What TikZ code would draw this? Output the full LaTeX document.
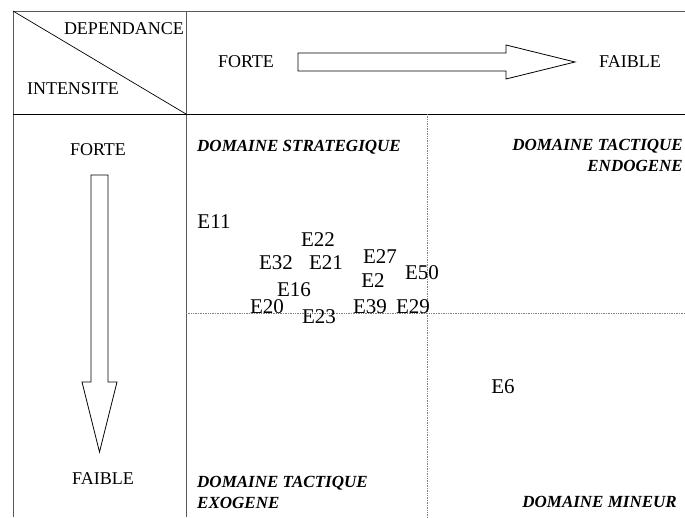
\documentclass[tikz,border=0pt]{standalone}
\usepackage{fontspec}
\setmainfont{Liberation Serif}
\usepackage{tikz}
\tikzset{%
  base/.style = {inner sep=0pt, font=\fontsize{18}{21}\selectfont},
  elem/.style = {inner sep=0pt, font=\fontsize{21}{23}\selectfont},
  zone/.style = {inner sep=0pt, align=left, font=\fontsize{17}{21}\selectfont\bfseries\itshape},
  frame/.style = {draw=black!65, line width=0.9pt},
  sep/.style = {draw=black!50, densely dotted, line width=0.7pt},
  bigarrow/.style = {draw=black, line width=0.8pt, fill=white, line join=miter}
}

\begin{document}
\begin{tikzpicture}[x=1pt, y=-1pt]
  \useasboundingbox (0,0) rectangle (685,517);

  % Table frame
  \draw[frame] (685,11) -- (13,11) -- (13,517);
  \draw[frame] (186,11) -- (186,517);
  \draw[draw=black, line width=0.9pt] (13,114) -- (685,114);
  \draw[line width=0.7pt] (13,11) -- (186,114);
  \draw[sep] (427,114) -- (427,517);
  \draw[sep] (186,313) -- (685,313);

  % Header texts
  \node (dependance) [base] at (124,29) {DEPENDANCE};
  \node (intensite) [base] at (73,89) {INTENSITE};
  \node (forte-h) [base] at (246,62) {FORTE};
  \node (faible-h) [base] at (630,62) {FAIBLE};
  \node (forte-v) [base] at (98,150) {FORTE};
  \node (faible-v) [base] at (103,479) {FAIBLE};

  % Block arrows
  \draw[bigarrow] (298,53) -- (506,53) -- (506,45) -- (575,62) -- (506,79)
    -- (506,71) -- (298,71) -- cycle;
  \draw[bigarrow] (91,175) -- (108,175) -- (108,382) -- (117,382) -- (99.5,452)
    -- (82,382) -- (91,382) -- cycle;

  % Domains
  \node (strat) [zone, anchor=west] at (197,147) {DOMAINE STRATEGIQUE};
  \node (endo) [zone, align=right, anchor=north east] at (683,139) {DOMAINE TACTIQUE\\ENDOGENE};
  \node (exo) [zone, anchor=north west] at (197,476) {DOMAINE TACTIQUE\\EXOGENE};
  \node (mineur) [zone, anchor=east] at (677,502) {DOMAINE MINEUR};

  % Elements
  \node (e11) [elem] at (214,222) {E11};
  \node (e22) [elem] at (318,240) {E22};
  \node (e32) [elem] at (276,263) {E32};
  \node (e21) [elem] at (326,263) {E21};
  \node (e27) [elem] at (380,257) {E27};
  \node (e2) [elem] at (373,281) {E2};
  \node (e50) [elem] at (422,273) {E50};
  \node (e16) [elem] at (294,290) {E16};
  \node (e20) [elem] at (267,307) {E20};
  \node (e23) [elem] at (319,317) {E23};
  \node (e39) [elem] at (370,307) {E39};
  \node (e29) [elem] at (413,307) {E29};
  \node (e6) [elem] at (503,387) {E6};
\end{tikzpicture}
\end{document}
